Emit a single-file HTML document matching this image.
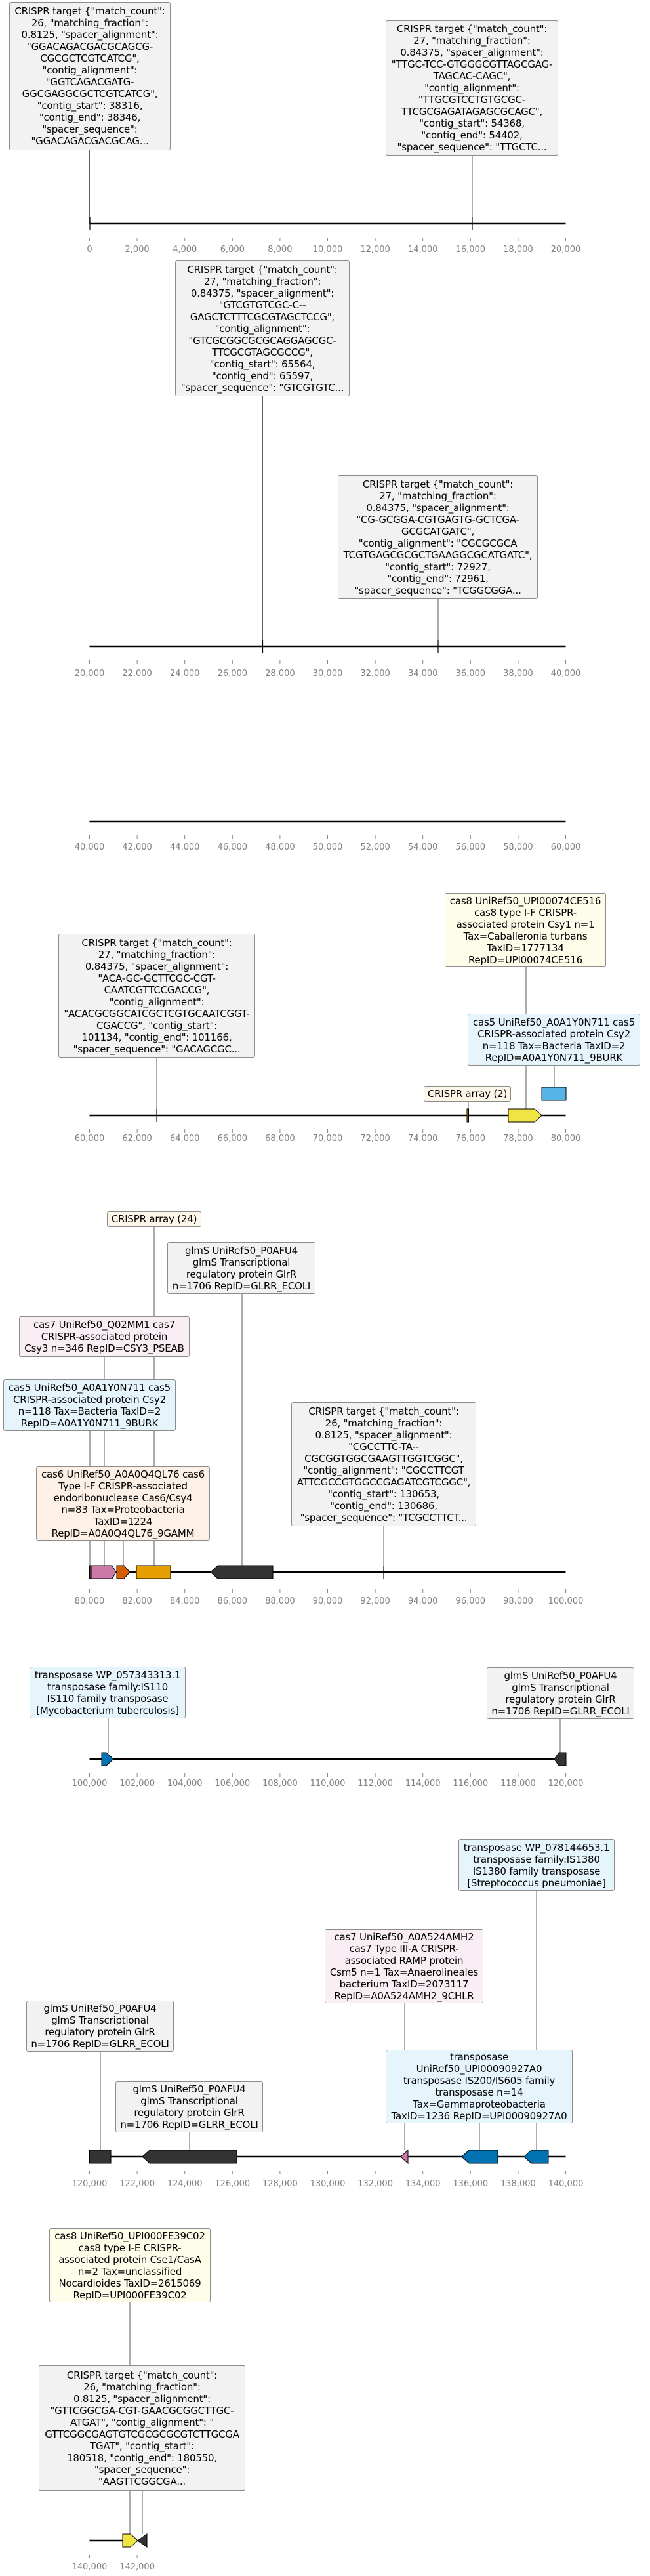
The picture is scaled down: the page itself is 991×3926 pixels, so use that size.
<!DOCTYPE html>
<html><head><meta charset="utf-8">
<style>
html,body{margin:0;padding:0;background:#fff;}
#wrap{position:relative;width:991px;height:3926px;overflow:hidden;background:#fff;}
svg{position:absolute;left:0;top:0;}
.b{position:absolute;box-sizing:border-box;border:1px solid #8c8c8c;border-radius:3px;font-family:"DejaVu Sans","Liberation Sans",sans-serif;font-size:15px;line-height:18px;text-align:center;white-space:nowrap;display:flex;flex-direction:column;justify-content:center;align-items:center;color:#000;overflow:visible;letter-spacing:-0.2px;}
.g{background:#f2f2f2;}
.y{background:#fdfde9;}
.bl{background:#e6f4fc;}
.pk{background:#f9eef4;}
.or{background:#fdf0e6;}
.cr{background:#fef6e9;}
</style></head><body><div id="wrap">
<svg width="991" height="3926" xmlns="http://www.w3.org/2000/svg">
<defs>
<g id="ticks" stroke="#888" stroke-width="1">
<line x1="136.5" y1="21" x2="136.5" y2="27"/><line x1="209.1" y1="21" x2="209.1" y2="27"/><line x1="281.7" y1="21" x2="281.7" y2="27"/><line x1="354.3" y1="21" x2="354.3" y2="27"/><line x1="426.9" y1="21" x2="426.9" y2="27"/><line x1="499.5" y1="21" x2="499.5" y2="27"/><line x1="572.1" y1="21" x2="572.1" y2="27"/><line x1="644.7" y1="21" x2="644.7" y2="27"/><line x1="717.3" y1="21" x2="717.3" y2="27"/><line x1="789.9" y1="21" x2="789.9" y2="27"/><line x1="862.5" y1="21" x2="862.5" y2="27"/>
</g>
</defs>
<g font-family="DejaVu Sans, Liberation Sans, sans-serif" font-size="13" fill="#808080" text-anchor="middle">
<!-- P1 -->
<g transform="translate(0,341)"><use href="#ticks"/>
<text x="136.5" y="43">0</text><text x="209.1" y="43">2,000</text><text x="281.7" y="43">4,000</text><text x="354.3" y="43">6,000</text><text x="426.9" y="43">8,000</text><text x="499.5" y="43">10,000</text><text x="572.1" y="43">12,000</text><text x="644.7" y="43">14,000</text><text x="717.3" y="43">16,000</text><text x="789.9" y="43">18,000</text><text x="862.5" y="43">20,000</text></g>
<!-- P2 -->
<g transform="translate(0,985)"><use href="#ticks"/>
<text x="136.5" y="45">20,000</text><text x="209.1" y="45">22,000</text><text x="281.7" y="45">24,000</text><text x="354.3" y="45">26,000</text><text x="426.9" y="45">28,000</text><text x="499.5" y="45">30,000</text><text x="572.1" y="45">32,000</text><text x="644.7" y="45">34,000</text><text x="717.3" y="45">36,000</text><text x="789.9" y="45">38,000</text><text x="862.5" y="45">40,000</text></g>
<!-- P3 -->
<g transform="translate(0,1252)"><use href="#ticks"/>
<text x="136.5" y="43">40,000</text><text x="209.1" y="43">42,000</text><text x="281.7" y="43">44,000</text><text x="354.3" y="43">46,000</text><text x="426.9" y="43">48,000</text><text x="499.5" y="43">50,000</text><text x="572.1" y="43">52,000</text><text x="644.7" y="43">54,000</text><text x="717.3" y="43">56,000</text><text x="789.9" y="43">58,000</text><text x="862.5" y="43">60,000</text></g>
<!-- P4 -->
<g transform="translate(0,1700)"><use href="#ticks"/>
<text x="136.5" y="39">60,000</text><text x="209.1" y="39">62,000</text><text x="281.7" y="39">64,000</text><text x="354.3" y="39">66,000</text><text x="426.9" y="39">68,000</text><text x="499.5" y="39">70,000</text><text x="572.1" y="39">72,000</text><text x="644.7" y="39">74,000</text><text x="717.3" y="39">76,000</text><text x="789.9" y="39">78,000</text><text x="862.5" y="39">80,000</text></g>
<!-- P5 -->
<g transform="translate(0,2396)"><use href="#ticks" transform="translate(0,5)"/>
<text x="136.5" y="48">80,000</text><text x="209.1" y="48">82,000</text><text x="281.7" y="48">84,000</text><text x="354.3" y="48">86,000</text><text x="426.9" y="48">88,000</text><text x="499.5" y="48">90,000</text><text x="572.1" y="48">92,000</text><text x="644.7" y="48">94,000</text><text x="717.3" y="48">96,000</text><text x="789.9" y="48">98,000</text><text x="862.5" y="48">100,000</text></g>
<!-- P6 -->
<g transform="translate(0,2681)"><use href="#ticks"/>
<text x="136.5" y="41">100,000</text><text x="209.1" y="41">102,000</text><text x="281.7" y="41">104,000</text><text x="354.3" y="41">106,000</text><text x="426.9" y="41">108,000</text><text x="499.5" y="41">110,000</text><text x="572.1" y="41">112,000</text><text x="644.7" y="41">114,000</text><text x="717.3" y="41">116,000</text><text x="789.9" y="41">118,000</text><text x="862.5" y="41">120,000</text></g>
<!-- P7 -->
<g transform="translate(0,3287)"><use href="#ticks"/>
<text x="136.5" y="45">120,000</text><text x="209.1" y="45">122,000</text><text x="281.7" y="45">124,000</text><text x="354.3" y="45">126,000</text><text x="426.9" y="45">128,000</text><text x="499.5" y="45">130,000</text><text x="572.1" y="45">132,000</text><text x="644.7" y="45">134,000</text><text x="717.3" y="45">136,000</text><text x="789.9" y="45">138,000</text><text x="862.5" y="45">140,000</text></g>
<!-- P8 -->
<g transform="translate(0,3872)">
<line x1="136.5" y1="22" x2="136.5" y2="27" stroke="#888"/><line x1="209.1" y1="22" x2="209.1" y2="27" stroke="#888"/>
<text x="136.5" y="44">140,000</text><text x="209.1" y="44">142,000</text></g>
</g>

<!-- connectors -->
<g stroke="#333" stroke-width="0.8">
<line x1="136.5" y1="229" x2="136.5" y2="341"/><line x1="720" y1="237" x2="720" y2="341"/>
<line x1="400.5" y1="604" x2="400.5" y2="985"/><line x1="668" y1="913" x2="668" y2="985"/>
<line x1="239" y1="1612" x2="239" y2="1700"/><line x1="802" y1="1474" x2="802" y2="1690"/><line x1="845" y1="1624" x2="845" y2="1657"/><line x1="714" y1="1679" x2="714" y2="1690"/>
<line x1="235" y1="1870" x2="235" y2="2386"/><line x1="369" y1="1972" x2="369" y2="2386"/><line x1="159" y1="2068" x2="159" y2="2386"/><line x1="137" y1="2181" x2="137" y2="2386"/><line x1="188" y1="2348" x2="188" y2="2386"/><line x1="585" y1="2326" x2="585" y2="2396"/>
<line x1="165" y1="2619" x2="165" y2="2671"/><line x1="854" y1="2620" x2="854" y2="2671"/>
<line x1="818" y1="2882" x2="818" y2="3277"/><line x1="617" y1="3053" x2="617" y2="3277"/><line x1="731" y1="3236" x2="731" y2="3277"/><line x1="153" y1="3127" x2="153" y2="3277"/><line x1="289" y1="3250" x2="289" y2="3277"/>
<line x1="198" y1="3509" x2="198" y2="3862"/><line x1="217" y1="3796" x2="217" y2="3862"/>
</g>

<!-- axes -->
<g stroke="#000" stroke-width="2.5">
<line x1="136.5" y1="341" x2="862.5" y2="341"/>
<line x1="136.5" y1="985" x2="862.5" y2="985"/>
<line x1="136.5" y1="1252" x2="862.5" y2="1252"/>
<line x1="136.5" y1="1700" x2="862.5" y2="1700"/>
<line x1="136.5" y1="2396" x2="862.5" y2="2396"/>
<line x1="136.5" y1="2681" x2="862.5" y2="2681"/>
<line x1="136.5" y1="3287" x2="862.5" y2="3287"/>
<line x1="136.5" y1="3872" x2="200" y2="3872"/>
</g>

<!-- CRISPR target markers -->
<g stroke="#000" stroke-width="1.2">
<line x1="137" y1="331" x2="137" y2="351"/><line x1="720" y1="331" x2="720" y2="351"/>
<line x1="400.5" y1="975" x2="400.5" y2="995"/><line x1="668" y1="975" x2="668" y2="995"/>
<line x1="239" y1="1690" x2="239" y2="1710"/>
<line x1="585" y1="2386" x2="585" y2="2406"/>
</g>

<!-- genes -->
<g stroke="#000" stroke-width="1">
<polygon points="775,1690 815,1690 826,1700 815,1710 775,1710" fill="#f0e442"/>
<rect x="826" y="1657" width="37" height="20" fill="#56b4e9"/>
<rect x="712" y="1690" width="2.5" height="20" fill="#e69f00"/>

<rect x="136.5" y="2386" width="2.5" height="20" fill="#333"/>
<polygon points="139,2386 171,2386 177,2396 171,2406 139,2406" fill="#cc79a7"/>
<polygon points="178,2386 189,2386 198,2396 189,2406 178,2406" fill="#d55e00"/>
<rect x="208" y="2386" width="52" height="20" fill="#e69f00"/>
<polygon points="321,2396 332,2386 416,2386 416,2406 332,2406" fill="#333"/>

<polygon points="155,2671 162,2671 173,2681 162,2691 155,2691" fill="#0072b2"/>
<polygon points="845,2681 852,2671 863,2671 863,2691 852,2691" fill="#333"/>

<rect x="136.5" y="3277" width="32.5" height="20" fill="#333"/>
<polygon points="217,3287 228,3277 361,3277 361,3297 228,3297" fill="#333"/>
<polygon points="611,3287 622,3277 622,3297" fill="#cc79a7"/>
<polygon points="704,3287 715,3277 759,3277 759,3297 715,3297" fill="#0072b2"/>
<polygon points="799,3287 810,3277 836,3277 836,3297 810,3297" fill="#0072b2"/>

<polygon points="187,3862 199,3862 210,3872 199,3882 187,3882" fill="#f0e442"/>
<polygon points="210,3872 224,3862 224,3882" fill="#333"/>
</g>
</svg>

<!-- P1 -->
<div class="b g" style="left:14px;top:3px;width:246px;height:226px;">CRISPR target {"match_count":<br>26, "matching_fraction":<br>0.8125, "spacer_alignment":<br>"GGACAGACGACGCAGCG-<br>CGCGCTCGTCATCG",<br>"contig_alignment":<br>"GGTCAGACGATG-<br>GGCGAGGCGCTCGTCATCG",<br>"contig_start": 38316,<br>"contig_end": 38346,<br>"spacer_sequence":<br>"GGACAGACGACGCAG...</div>
<div class="b g" style="left:588px;top:31px;width:263px;height:206px;">CRISPR target {"match_count":<br>27, "matching_fraction":<br>0.84375, "spacer_alignment":<br>"TTGC-TCC-GTGGGCGTTAGCGAG-<br>TAGCAC-CAGC",<br>"contig_alignment":<br>"TTGCGTCCTGTGCGC-<br>TTCGCGAGATAGAGCGCAGC",<br>"contig_start": 54368,<br>"contig_end": 54402,<br>"spacer_sequence": "TTGCTC...</div>
<!-- P2 -->
<div class="b g" style="left:267px;top:397px;width:266px;height:207px;">CRISPR target {"match_count":<br>27, "matching_fraction":<br>0.84375, "spacer_alignment":<br>"GTCGTGTCGC-C--<br>GAGCTCTTTCGCGTAGCTCCG",<br>"contig_alignment":<br>"GTCGCGGCGCGCAGGAGCGC-<br>TTCGCGTAGCGCCG",<br>"contig_start": 65564,<br>"contig_end": 65597,<br>"spacer_sequence": "GTCGTGTC...</div>
<div class="b g" style="left:515px;top:724px;width:305px;height:189px;">CRISPR target {"match_count":<br>27, "matching_fraction":<br>0.84375, "spacer_alignment":<br>"CG-GCGGA-CGTGAGTG-GCTCGA-<br>GCGCATGATC",<br>"contig_alignment": "CGCGCGCA<br>TCGTGAGCGCGCTGAAGGCGCATGATC",<br>"contig_start": 72927,<br>"contig_end": 72961,<br>"spacer_sequence": "TCGGCGGA...</div>
<!-- P4 -->
<div class="b y" style="left:678px;top:1361px;width:246px;height:113px;">cas8 UniRef50_UPI00074CE516<br>cas8 type I-F CRISPR-<br>associated protein Csy1 n=1<br>Tax=Caballeronia turbans<br>TaxID=1777134<br>RepID=UPI00074CE516</div>
<div class="b g" style="left:89px;top:1423px;width:300px;height:189px;">CRISPR target {"match_count":<br>27, "matching_fraction":<br>0.84375, "spacer_alignment":<br>"ACA-GC-GCTTCGC-CGT-<br>CAATCGTTCCGACCG",<br>"contig_alignment":<br>"ACACGCGGCATCGCTCGTGCAATCGGT-<br>CGACCG", "contig_start":<br>101134, "contig_end": 101166,<br>"spacer_sequence": "GACAGCGC...</div>
<div class="b bl" style="left:713px;top:1545px;width:263px;height:79px;">cas5 UniRef50_A0A1Y0N711 cas5<br>CRISPR-associated protein Csy2<br>n=118 Tax=Bacteria TaxID=2<br>RepID=A0A1Y0N711_9BURK</div>
<div class="b cr" style="left:646px;top:1655px;width:133px;height:24px;">CRISPR array (2)</div>
<!-- P5 -->
<div class="b cr" style="left:163px;top:1846px;width:144px;height:24px;">CRISPR array (24)</div>
<div class="b g" style="left:255px;top:1893px;width:226px;height:79px;">glmS UniRef50_P0AFU4<br>glmS Transcriptional<br>regulatory protein GlrR<br>n=1706 RepID=GLRR_ECOLI</div>
<div class="b pk" style="left:29px;top:2006px;width:260px;height:62px;">cas7 UniRef50_Q02MM1 cas7<br>CRISPR-associated protein<br>Csy3 n=346 RepID=CSY3_PSEAB</div>
<div class="b bl" style="left:5px;top:2102px;width:263px;height:79px;">cas5 UniRef50_A0A1Y0N711 cas5<br>CRISPR-associated protein Csy2<br>n=118 Tax=Bacteria TaxID=2<br>RepID=A0A1Y0N711_9BURK</div>
<div class="b g" style="left:444px;top:2137px;width:282px;height:189px;">CRISPR target {"match_count":<br>26, "matching_fraction":<br>0.8125, "spacer_alignment":<br>"CGCCTTC-TA--<br>CGCGGTGGCGAAGTTGGTCGGC",<br>"contig_alignment": "CGCCTTCGT<br>ATTCGCCGTGGCCGAGATCGTCGGC",<br>"contig_start": 130653,<br>"contig_end": 130686,<br>"spacer_sequence": "TCGCCTTCT...</div>
<div class="b or" style="left:55px;top:2235px;width:265px;height:113px;">cas6 UniRef50_A0A0Q4QL76 cas6<br>Type I-F CRISPR-associated<br>endoribonuclease Cas6/Csy4<br>n=83 Tax=Proteobacteria<br>TaxID=1224<br>RepID=A0A0Q4QL76_9GAMM</div>
<!-- P6 -->
<div class="b bl" style="left:45px;top:2540px;width:238px;height:79px;">transposase WP_057343313.1<br>transposase family:IS110<br>IS110 family transposase<br>[Mycobacterium tuberculosis]</div>
<div class="b g" style="left:742px;top:2541px;width:225px;height:79px;">glmS UniRef50_P0AFU4<br>glmS Transcriptional<br>regulatory protein GlrR<br>n=1706 RepID=GLRR_ECOLI</div>
<!-- P7 -->
<div class="b bl" style="left:699px;top:2803px;width:238px;height:79px;">transposase WP_078144653.1<br>transposase family:IS1380<br>IS1380 family transposase<br>[Streptococcus pneumoniae]</div>
<div class="b pk" style="left:495px;top:2940px;width:242px;height:113px;">cas7 UniRef50_A0A524AMH2<br>cas7 Type III-A CRISPR-<br>associated RAMP protein<br>Csm5 n=1 Tax=Anaerolineales<br>bacterium TaxID=2073117<br>RepID=A0A524AMH2_9CHLR</div>
<div class="b g" style="left:40px;top:3049px;width:225px;height:78px;">glmS UniRef50_P0AFU4<br>glmS Transcriptional<br>regulatory protein GlrR<br>n=1706 RepID=GLRR_ECOLI</div>
<div class="b bl" style="left:588px;top:3124px;width:285px;height:112px;">transposase<br>UniRef50_UPI00090927A0<br>transposase IS200/IS605 family<br>transposase n=14<br>Tax=Gammaproteobacteria<br>TaxID=1236 RepID=UPI00090927A0</div>
<div class="b g" style="left:176px;top:3172px;width:225px;height:78px;">glmS UniRef50_P0AFU4<br>glmS Transcriptional<br>regulatory protein GlrR<br>n=1706 RepID=GLRR_ECOLI</div>
<!-- P8 -->
<div class="b y" style="left:75px;top:3396px;width:246px;height:113px;">cas8 UniRef50_UPI000FE39C02<br>cas8 type I-E CRISPR-<br>associated protein Cse1/CasA<br>n=2 Tax=unclassified<br>Nocardioides TaxID=2615069<br>RepID=UPI000FE39C02</div>
<div class="b g" style="left:59px;top:3605px;width:315px;height:191px;">CRISPR target {"match_count":<br>26, "matching_fraction":<br>0.8125, "spacer_alignment":<br>"GTTCGGCGA-CGT-GAACGCGGCTTGC-<br>ATGAT", "contig_alignment": "<br>GTTCGGCGAGTGTCGCGCGCGTCTTGCGA<br>TGAT", "contig_start":<br>180518, "contig_end": 180550,<br>"spacer_sequence":<br>"AAGTTCGGCGA...</div>
</div></body></html>
